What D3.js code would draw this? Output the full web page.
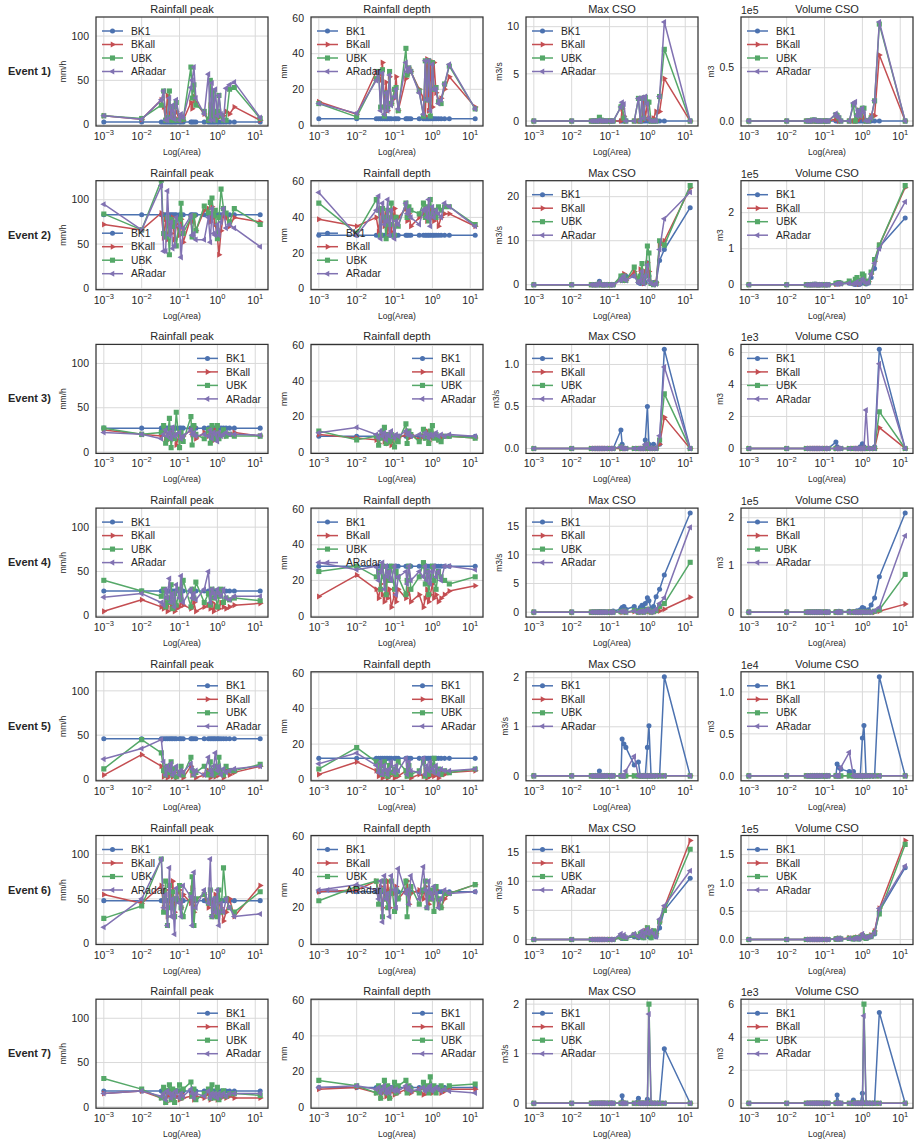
<!DOCTYPE html>
<html>
<head>
<meta charset="utf-8">
<script src="https://cdn.jsdelivr.net/npm/d3@7"></script>
<style>
  body { margin: 0; background: #fff; }
  svg { display: block; font-family: "Liberation Sans", Arial, sans-serif; }
</style>
</head>
<body>
<svg id="chart" width="916" height="1139"></svg>
<script>
// subcatchment areas (x axis, log scale)
var areas = [0.001, 0.01, 0.033, 0.038, 0.043, 0.048, 0.054, 0.06,
  0.066, 0.074, 0.082, 0.1, 0.11, 0.125, 0.2, 0.215,
  0.24, 0.27, 0.45, 0.58, 0.65, 0.72, 0.8, 0.88,
  1.0, 1.1, 1.25, 1.45, 1.7, 2.1, 2.8, 13.5];

var seriesNames = ['BK1', 'BKall', 'UBK', 'ARadar'];
var eventNames = ['Event 1)', 'Event 2)', 'Event 3)', 'Event 4)', 'Event 5)', 'Event 6)', 'Event 7)'];
var panelTitles = ['Rainfall peak', 'Rainfall depth', 'Max CSO', 'Volume CSO'];
var yLabels = ['mm/h', 'mm', 'm3/s', 'm3'];
var xTickValues = [0.001, 0.01, 0.1, 1, 10];
var xTickExps = ['\u22123', '\u22122', '\u22121', '0', '1'];
var peakTicks = [0, 50, 100];
var depthTicks = [0, 20, 40, 60];
var csoTicks = [[0, 5, 10], [0, 10, 20], [0, 0.5, 1], [0, 5, 10, 15], [0, 1, 2], [0, 5, 10, 15], [0, 1, 2]];
var volTicks = [[0, 0.5], [0, 1, 2], [0, 2, 4, 6], [0, 1, 2], [0, 0.5, 1], [0, 0.5, 1, 1.5], [0, 2, 4, 6]];
var volExp = [5, 5, 3, 5, 4, 5, 3];   // volume values below are in units of 1eN
var legendLoc = [
  ['ul', 'ul', 'ul', 'ul'], ['ll', 'll', 'ul', 'ul'], ['ur', 'ur', 'ul', 'ul'], ['ul', 'ul', 'ul', 'ul'],
  ['ur', 'ur', 'ul', 'ul'], ['ul', 'ul', 'ul', 'ul'], ['ur', 'ur', 'ul', 'ul']];

// each panel: [BK1, BKall, UBK, ARadar]
// ---- Event 1
var e1Peak = [
  [3,3,3,3,3,3,3,3, 3,3,3,3,3,3,3,3, 3,3,3,3,3,3,3,3, 3,3,3,3,3,3,3,3],
  [10,6,28,20,5,33,8,20, 5,8,15,5,10,5,25,18, 32,25,12,5,22,8,15,10, 10,8,12,10,15,12,20,5],
  [10,7,22,38,5,8,38,5, 20,5,25,5,8,6,65,30, 45,22,15,5,50,8,38,5, 15,33,10,5,5,40,42,7],
  [10,6,28,38,5,5,30,8, 22,6,28,5,12,8,42,50, 65,30,12,57,5,47,5,40, 10,33,12,5,41,45,48,8]];
var e1Depth = [
  [3.5,3.5,3.5,3.5,3.5,3.5,3.5,3.5, 3.5,3.5,3.5,3.5,3.5,3.5,3.5,3.5, 3.5,3.5,3.5,3.5,3.5,3.5,3.5,3.5, 3.5,3.5,3.5,3.5,3.5,3.5,3.5,3.5],
  [13,6,30,28,25,35,10,24, 8,27,12,15,27,8,26,28, 32,30,20,15,5,37,8,36, 10,35,18,14,15,20,27,10],
  [12,4.5,26,30,10,31,5,18, 10,30,12,20,21,8,43,28, 32,30,19,5,36,14,36,5, 35,20,21,13,12,23,33,9],
  [12,6.5,25,30,8,29,6,18, 8,28,11,16,20,9,35,30, 32,30,18,6,36,14,36,8, 34,20,20,12,14,23,34,9]];
var e1Max = [
  [0,0,0,0,0,0,0,0, 0,0,0,0,0,0,0,0, 0,0,0,0,0,0,0,0, 0,0,0,0,0,0,0,0],
  [0,0,0,0,0,0,0,0, 0,0,0,0,0,0,0,1.3, 0.5,0,0,0,0,0,2.4,0.3, 1.8,0.3,0,0.3,1.0,1.0,4.5,0],
  [0,0,0,0,0,0,0.4,0.1, 0,0,0,0,0,0,1.5,1.6, 0.3,0,0,2.4,0,2.4,0.3,2.5, 2.0,2.0,0,0,0,2.6,7.6,0],
  [0,0,0,0,0,0,0.1,0, 0,0,0,0,0,0,1.5,2.0, 1.8,0,0,2.4,0,2.5,0.3,2.6, 1.8,0.3,0,0,0,2.6,10.5,0]];
var e1Vol = [
  [0,0,0,0,0,0,0,0, 0,0,0,0,0,0,0,0, 0,0,0,0,0,0,0,0, 0,0,0,0,0,0,0,0],
  [0,0,0,0,0,0,0,0, 0,0,0,0,0,0,0.02,0.02, 0,0,0,0,0,0,0.1,0.03, 0.08,0.02,0,0,0.05,0.05,0.62,0],
  [0,0,0,0,0,0.01,0.01,0, 0,0,0,0,0,0,0.06,0.05, 0.03,0,0,0.15,0,0.05,0.1,0.05, 0.12,0.12,0,0,0.03,0.19,0.91,0],
  [0,0,0,0,0,0.01,0.01,0, 0,0,0,0,0,0,0.07,0.04, 0.03,0,0,0.17,0.18,0.05,0.1,0.05, 0.12,0.08,0,0,0.03,0.19,0.93,0]];

// ---- Event 2
var e2Peak = [
  [83,83,83,83,83,83,83,83, 83,83,83,83,83,83,83,83, 83,83,83,83,83,83,83,83, 83,83,83,83,83,83,83,83],
  [72,66,85,57,78,55,72,62, 80,55,73,60,78,52,80,75, 82,65,88,90,75,92,80,72, 58,38,65,82,80,70,80,75],
  [84,66,122,62,58,80,38,78, 70,75,48,78,96,62,80,58, 82,65,93,85,97,102,82,88, 56,80,112,90,85,75,90,72],
  [95,66,116,42,42,110,60,75, 45,48,80,70,35,68,82,60, 62,55,55,80,52,90,62,60, 72,60,75,90,68,72,68,47]];
var e2Depth = [
  [30,30,30,30,30,30,30,30, 30,30,30,30,30,30,30,30, 30,30,30,30,30,30,30,30, 30,30,30,30,30,30,30,30],
  [39,35,40,32,45,38,35,42, 30,40,32,45,35,40,45,38, 42,35,40,42,45,38,42,45, 40,38,42,35,40,42,42,35],
  [48,31,50,44,30,45,40,28, 44,36,48,30,40,35,48,40, 46,44,42,48,40,46,38,50, 42,44,40,46,44,46,46,36],
  [54,30,44,52,28,48,36,38, 50,30,44,28,38,36,48,42, 44,40,36,44,45,40,50,35, 46,40,44,42,40,48,46,35]];
var e2Max = [
  [0,0,0,0,0,0,0.8,0, 0,0,0,0,0,0,1.5,2.0, 1.5,2.0,2.0,0.5,0.3,1.5,0.3,0.5, 5.0,2.0,0.3,0.5,0.5,5.5,8.0,17.5],
  [0,0,0,0,0,0,0.3,0, 0,0,0,0,0,0,1.5,1.0, 2.5,1.0,3.0,1.0,3.5,1.0,0.3,3.0, 5.0,3.0,0.5,0.3,0.5,9.0,10.0,22.0],
  [0,0,0,0,0,0,0.3,0, 0,0,0,0,0,0,2.0,1.0, 2.0,1.0,4.0,1.0,2.0,4.8,0.5,2.0, 8.8,7.2,0.3,0,0.3,10.0,9.0,22.5],
  [0,0,0,0,0,0,0.5,0, 0,0,0,0,0,0,1.0,1.5, 2.0,1.0,2.0,0.5,1.0,3.0,0.3,2.0, 4.5,1.0,0.3,0,0.2,8.0,15.0,21.0]];
var e2Vol = [
  [0,0,0,0,0,0,0.01,0, 0,0,0,0,0,0,0.02,0.03, 0.02,0.03,0.04,0.02,0.01,0.03,0.01,0.02, 0.1,0.05,0.02,0.05,0.2,0.45,1.05,1.85],
  [0,0,0,0,0,0,0,0, 0,0,0,0,0,0,0.02,0.03, 0.05,0.03,0.08,0.04,0.08,0.05,0.02,0.1, 0.2,0.15,0.05,0.08,0.3,0.65,1.1,2.7],
  [0,0,0,0,0,0,0.01,0, 0,0,0,0,0,0,0.04,0.04, 0.06,0.04,0.1,0.05,0.15,0.2,0.05,0.12, 0.3,0.25,0.05,0.1,0.35,0.7,1.1,2.75],
  [0,0,0,0,0,0,0.01,0, 0,0,0,0,0,0,0.02,0.03, 0.04,0.03,0.05,0.02,0.04,0.08,0.02,0.05, 0.15,0.1,0.04,0.06,0.3,0.6,1.0,2.3]];

// ---- Event 3
var e3Peak = [
  [27,27,27,27,27,27,27,27, 27,27,27,27,27,27,27,27, 27,27,27,27,27,27,27,27, 27,27,27,27,27,27,27,27],
  [25,20,18,22,12,20,15,22, 18,20,8,22,15,18,25,20, 28,15,22,18,25,12,20,25, 15,22,18,20,18,20,22,18],
  [27,20,22,30,10,15,38,5, 20,15,45,5,22,12,40,8, 30,20,15,25,10,30,15,20, 30,15,20,25,18,20,18,18],
  [22,20,15,20,25,18,22,15, 28,18,20,22,15,18,25,20, 22,18,20,18,25,15,22,20, 12,22,18,20,22,20,20,19]];
var e3Depth = [
  [9,9,9,9,9,9,9,9, 9,9,9,9,9,9,9,9, 9,9,9,9,9,9,9,9, 9,9,9,9,9,9,9,9],
  [10,8,7,5,9,10,6,8, 5,10,4,9,7,8,10,12, 8,10,7,9,8,12,6,10, 8,9,10,7,8,9,9,8],
  [12,7,9,4,8,12,14,5, 10,6,10,3,9,6,16,5, 12,10,6,13,8,10,5,12, 15,8,10,7,6,9,9,8],
  [11,14,10,8,12,9,11,7, 10,9,12,8,10,9,12,10, 11,9,10,9,11,10,8,10, 9,10,11,9,10,9,10,9]];
var e3Max = [
  [0,0,0,0,0,0,0,0, 0,0,0,0,0,0,0.22,0.05, 0,0,0,0,0,0,0,0.1, 0.5,0.05,0,0.05,0,0.05,1.18,0],
  [0,0,0,0,0,0,0,0, 0,0,0,0,0,0,0,0, 0,0,0,0,0,0,0,0, 0,0,0,0,0,0.05,0.37,0],
  [0,0,0,0,0,0,0,0, 0,0,0,0,0,0,0.02,0, 0,0,0,0,0,0,0,0.02, 0.05,0,0,0,0,0.1,0.65,0],
  [0,0,0,0,0,0,0,0, 0,0,0,0,0,0,0.02,0, 0,0,0,0,0,0,0,0.05, 0.05,0,0,0,0,0.15,0.97,0]];
var e3Vol = [
  [0,0,0,0,0,0,0,0, 0,0,0,0,0,0,0.4,0.1, 0,0,0,0,0,0,0,0.1, 0.3,0.1,0,0,0,0.1,6.2,0],
  [0,0,0,0,0,0,0,0, 0,0,0,0,0,0,0,0, 0,0,0,0,0,0,0,0, 0,0,0,0,0,0,1.3,0],
  [0,0,0,0,0,0,0,0, 0,0,0,0,0,0,0,0, 0,0,0,0,0,0,0,0, 0,0,0,0,0,0,2.3,0],
  [0,0,0,0,0,0,0,0, 0,0,0,0,0,0,0,0, 0,0,0,0,0,0,0,0, 0,0,2.4,0,0,0,5.3,0]];

// ---- Event 4
var e4Peak = [
  [28,28,28,28,28,28,28,28, 28,28,28,28,28,28,28,28, 28,28,28,28,28,28,28,28, 28,28,28,28,28,28,28,28],
  [5,18,10,8,15,5,20,8, 12,5,8,10,15,12,8,10, 15,5,10,12,8,15,5,12, 10,8,15,10,8,10,12,14],
  [40,28,22,30,10,20,15,35, 8,25,12,30,18,40,10,30, 20,38,15,25,12,30,20,25, 10,22,30,15,20,18,20,17],
  [21,25,15,12,30,20,42,15, 25,10,35,20,45,15,30,20, 25,18,30,50,15,30,25,20, 30,25,22,30,20,18,22,22]];
var e4Depth = [
  [28,28,28,28,28,28,28,28, 28,28,28,28,28,28,28,28, 28,28,28,28,28,28,28,28, 28,28,28,28,28,28,28,28],
  [11,23,15,10,18,12,8,20, 10,15,5,12,8,15,10,12, 15,8,12,5,10,15,8,12, 18,10,12,8,10,12,14,17],
  [25,28,22,25,15,28,22,12, 25,20,28,15,25,22,12,20, 28,15,22,30,18,25,12,22, 28,20,15,25,22,20,18,22],
  [30,26,28,20,25,30,15,28, 22,25,20,28,12,22,25,18, 28,20,25,22,28,20,25,18, 25,28,22,25,20,28,28,26]];
var e4Max = [
  [0,0,0,0,0,0,0.1,0, 0,0,0,0,0,0.2,0.5,0.8, 1.0,0.5,1.0,0.3,0.8,1.2,0.5,1.5, 2.5,2.0,0.5,1.0,2.7,4.0,6.5,17.3],
  [0,0,0,0,0,0,0,0, 0,0,0,0,0,0,0.1,0, 0.1,0,0.1,0,0,0.1,0,0.1, 0.2,0.1,0,0,0.1,0.2,0.5,2.6],
  [0,0,0,0,0,0,0,0, 0,0,0,0,0,0,0.1,0.1, 0.2,0,0.3,0,0.1,0.3,0,0.2, 0.5,0.3,0,0.1,0.3,1.0,1.5,8.7],
  [0,0,0,0,0,0,0,0, 0,0,0,0,0,0,0.1,0.1, 0.2,0,0.2,0,0.1,0.2,0,0.3, 0.5,0.3,0,0.1,0.5,1.5,2.5,14.8]];
var e4Vol = [
  [0,0,0,0,0,0,0,0, 0,0,0,0,0,0,0.01,0.01, 0.02,0.01,0.02,0.01,0.01,0.03,0.01,0.05, 0.1,0.08,0.02,0.05,0.15,0.3,0.75,2.1],
  [0,0,0,0,0,0,0,0, 0,0,0,0,0,0,0,0, 0,0,0,0,0,0,0,0, 0,0,0,0,0,0,0.02,0.17],
  [0,0,0,0,0,0,0,0, 0,0,0,0,0,0,0,0, 0,0,0,0,0,0,0,0, 0.01,0,0,0,0,0.02,0.05,0.8],
  [0,0,0,0,0,0,0,0, 0,0,0,0,0,0,0,0, 0,0,0,0,0,0,0,0, 0.01,0,0,0,0,0.03,0.1,1.62]];

// ---- Event 5
var e5Peak = [
  [46,46,46,46,46,46,46,46, 46,46,46,46,46,46,46,46, 46,46,46,46,46,46,46,46, 46,46,46,46,46,46,46,46],
  [5,28,15,3,10,2,5,12, 3,8,2,5,10,2,15,5, 8,2,5,10,2,8,5,3, 12,5,8,2,10,5,8,15],
  [12,45,30,10,5,15,8,20, 5,12,3,8,15,5,25,10, 5,8,15,5,20,10,5,15, 8,25,10,5,15,10,10,17],
  [23,35,45,20,5,15,10,18, 5,8,15,5,10,8,18,12, 5,10,5,25,10,5,15,30, 10,15,5,12,8,10,12,15]];
var e5Depth = [
  [12,12,12,12,12,12,12,12, 12,12,12,12,12,12,12,12, 12,12,12,12,12,12,12,12, 12,12,12,12,12,12,12,12],
  [3,10,5,2,4,1,3,5, 1,2,4,1,3,2,5,2, 4,1,3,2,5,1,3,2, 4,2,3,1,4,3,4,5],
  [6,18,10,5,8,3,10,5, 2,8,4,6,3,10,5,2, 8,3,5,10,2,6,3,5, 8,12,4,6,3,5,4,6],
  [9,15,8,4,10,3,8,5, 3,6,10,4,8,5,12,3, 10,5,4,12,3,8,5,10, 6,4,8,3,6,5,5,6]];
var e5Max = [
  [0,0,0,0,0,0,0.1,0, 0,0,0,0,0,0,0,0.75, 0.65,0.58,0.22,0.28,0,0,0,0, 0.58,1.02,0,0,0,0,2.02,0],
  [0,0,0,0,0,0,0,0, 0,0,0,0,0,0,0,0, 0,0,0,0,0,0,0,0, 0,0,0,0,0,0,0,0],
  [0,0,0,0,0,0,0,0, 0,0,0,0,0,0,0,0, 0,0,0,0,0,0,0,0, 0,0,0,0,0,0,0,0],
  [0,0,0,0,0,0,0,0, 0,0,0,0,0,0,0,0, 0,0.1,0.4,0,0,0,0,0, 0,0,0,0,0,0,0,0]];
var e5Vol = [
  [0,0,0,0,0,0,0,0, 0,0,0,0,0,0,0,0.14, 0.1,0.08,0.05,0.05,0,0,0,0, 0.45,0.6,0,0,0,0,1.18,0],
  [0,0,0,0,0,0,0,0, 0,0,0,0,0,0,0,0, 0,0,0,0,0,0,0,0, 0,0,0,0,0,0,0,0],
  [0,0,0,0,0,0,0,0, 0,0,0,0,0,0,0,0, 0,0,0,0,0,0,0,0, 0,0,0,0,0,0,0,0],
  [0,0,0,0,0,0,0,0, 0,0,0,0,0,0,0,0, 0,0.1,0.28,0,0,0,0,0, 0,0,0,0,0,0,0,0]];

// ---- Event 6
var e6Peak = [
  [48,48,48,48,48,48,48,48, 48,48,48,48,48,48,48,48, 48,48,48,48,48,48,48,48, 48,48,48,48,48,48,48,48],
  [55,45,65,40,60,30,55,45, 70,35,50,60,40,55,45,62, 35,50,55,40,60,45,30,55, 50,45,40,25,35,50,30,65],
  [28,42,95,35,70,20,65,40, 58,30,50,65,40,30,55,75, 20,50,55,45,60,30,40,50, 30,60,35,85,50,40,35,58],
  [18,50,95,40,55,20,85,30, 50,10,62,45,30,65,52,20, 80,40,60,45,95,30,50,35, 60,20,45,35,50,40,30,33]];
var e6Depth = [
  [29,29,29,29,29,29,29,29, 29,29,29,29,29,29,29,29, 29,29,29,29,29,29,29,29, 29,29,29,29,29,29,29,29],
  [29,30,35,28,32,20,30,25, 35,20,30,28,32,25,30,35, 22,28,30,25,32,28,22,30, 25,28,30,22,20,25,28,33],
  [24,32,35,22,30,15,35,25, 20,28,35,18,30,25,35,15, 28,32,22,30,35,20,28,25, 30,18,32,25,20,28,28,33],
  [30,33,30,25,35,12,38,25, 28,15,38,30,20,42,28,30, 22,38,25,43,30,20,35,28, 25,32,28,20,25,30,28,29]];
var e6Max = [
  [0,0,0,0,0,0,0,0, 0,0,0,0,0,0,0.3,0.2, 0.3,0.2,0.5,0.3,0.5,0.8,0.3,1.0, 1.5,0.5,0.3,1.0,0.5,2.0,5.0,10.5],
  [0,0,0,0,0,0,0,0, 0,0,0,0,0,0,0.5,0.3, 0.5,0.3,0.8,0.5,0.8,1.0,0.5,1.5, 2.0,1.0,0.5,1.5,1.0,3.0,5.5,17.0],
  [0,0,0,0,0,0,0,0, 0,0,0,0,0,0,0.5,0.3, 0.5,0.2,0.8,0.5,1.0,1.0,0.3,1.2, 2.0,1.0,0.3,1.5,1.0,3.0,5.0,15.5],
  [0,0,0,0,0,0,0,0, 0,0,0,0,0,0,1.0,0.5, 0.8,0.3,1.0,0.5,0.8,1.5,0.5,1.2, 1.8,1.0,1.5,1.0,0.5,3.5,5.8,11.8]];
var e6Vol = [
  [0,0,0,0,0,0,0,0, 0,0,0,0,0,0,0.01,0.01, 0.01,0.01,0.02,0.01,0.02,0.03,0.01,0.03, 0.05,0.03,0.02,0.04,0.05,0.1,0.5,1.27],
  [0,0,0,0,0,0,0,0, 0,0,0,0,0,0,0.01,0.01, 0.02,0.01,0.03,0.02,0.03,0.04,0.02,0.05, 0.08,0.05,0.03,0.05,0.08,0.15,0.55,1.75],
  [0,0,0,0,0,0,0,0, 0,0,0,0,0,0,0.01,0.01, 0.02,0.01,0.02,0.01,0.03,0.03,0.01,0.04, 0.07,0.04,0.02,0.05,0.06,0.12,0.45,1.68],
  [0,0,0,0,0,0,0,0, 0,0,0,0,0,0,0.01,0.01, 0.02,0.01,0.02,0.01,0.02,0.03,0.01,0.03, 0.1,0.05,0.03,0.05,0.06,0.12,0.55,1.3]];

// ---- Event 7
var e7Peak = [
  [18,18,18,18,18,18,18,18, 18,18,18,18,18,18,18,18, 18,18,18,18,18,18,18,18, 18,18,18,18,18,18,18,18],
  [15,18,10,15,5,12,18,8, 15,10,12,8,15,10,12,15, 8,12,10,15,8,12,10,14, 8,12,10,12,10,12,10,10],
  [32,20,10,22,5,18,25,8, 20,5,18,25,10,20,28,12, 20,8,15,20,10,25,10,15, 22,8,15,18,12,15,15,13],
  [15,18,12,15,8,18,15,10, 15,12,18,10,15,12,20,15, 10,15,12,18,10,15,12,15, 10,15,12,15,12,15,15,15]];
var e7Depth = [
  [11,11,11,11,11,11,11,11, 11,11,11,11,11,11,11,11, 11,11,11,11,11,11,11,11, 11,11,11,11,11,11,11,11],
  [10,11,8,10,5,8,11,6, 10,5,9,7,10,8,10,9, 11,8,10,7,9,8,10,12, 8,10,9,10,8,9,10,10],
  [15,12,8,12,5,10,15,8, 12,5,10,14,8,12,15,8, 12,10,8,14,10,12,8,17, 10,12,8,10,12,10,12,13],
  [11,12,10,11,8,10,12,8, 10,8,11,9,10,9,12,10, 11,9,10,11,9,10,11,12, 9,10,11,10,9,10,9,8]];
var e7Max = [
  [0,0,0,0,0,0,0,0, 0,0,0,0,0,0,0,0.15, 0,0,0,0.1,0,0,0,0, 0.08,0,0,0,0,0,1.1,0],
  [0,0,0,0,0,0,0,0, 0,0,0,0,0,0,0,0, 0,0,0,0,0,0,0,0, 0,0,0,0,0,0,0,0],
  [0,0,0,0,0,0,0,0, 0,0,0,0,0,0,0,0, 0,0,0,0,0,0,0,0, 0,2.0,0,0,0,0,0,0],
  [0,0,0,0,0,0,0,0, 0,0,0,0,0,0,0,0, 0,0,0,0,0,0,0,0, 0,1.8,0,0,0,0,0,0]];
var e7Vol = [
  [0,0,0,0,0,0,0,0, 0,0,0,0,0,0,0,0.5, 0,0,0,0.2,0,0,0,0, 0.6,0,0,0,0,0,5.5,0],
  [0,0,0,0,0,0,0,0, 0,0,0,0,0,0,0,0, 0,0,0,0,0,0,0,0, 0,0,0,0,0,0,0,0],
  [0,0,0,0,0,0,0,0, 0,0,0,0,0,0,0,0, 0,0,0,0,0,0,0,0, 0,6.0,0,0,0,0,0,0],
  [0,0,0,0,0,0,0,0, 0,0,0,0,0,0,0,0, 0,0,0,0,0,0,0,0, 0,5.3,0,0,0,0,0,0]];

var eventData = [
  [e1Peak, e1Depth, e1Max, e1Vol], [e2Peak, e2Depth, e2Max, e2Vol], [e3Peak, e3Depth, e3Max, e3Vol],
  [e4Peak, e4Depth, e4Max, e4Vol], [e5Peak, e5Depth, e5Max, e5Vol], [e6Peak, e6Depth, e6Max, e6Vol],
  [e7Peak, e7Depth, e7Max, e7Vol]];

// ---- layout / style
var colors = ['#4C72B0', '#C44E52', '#55A868', '#8172B2'];
var symbols = [
  { type: d3.symbolCircle, size: 20, rot: 0 },
  { type: d3.symbolTriangle, size: 16, rot: 90 },
  { type: d3.symbolSquare, size: 26, rot: 0 },
  { type: d3.symbolTriangle, size: 16, rot: -90 }];
var colLeft = [96, 311, 526, 741];
var plotW = 172, plotH = 109, rowStep = 163.7, firstTop = 17;
var textColor = '#262626';

var logMin = Math.log10(d3.min(areas)), logMax = Math.log10(d3.max(areas));
var logPad = (logMax - logMin) * 0.05;
var xDomain = [Math.pow(10, logMin - logPad), Math.pow(10, logMax + logPad)];

var svg = d3.select('#chart');
var defs = svg.append('defs');

function fmtTick(ticks) {
  var dec = ticks.some(function(t) { return t % 1 !== 0; });
  return function(t) { return dec ? t.toFixed(1) : String(t); };
}

function drawMarker(sel, i, x, y) {
  sel.append('path')
    .attr('d', d3.symbol().type(symbols[i].type).size(symbols[i].size)())
    .attr('transform', 'translate(' + x + ',' + y + ') rotate(' + symbols[i].rot + ')')
    .attr('fill', colors[i]);
}

function drawPanel(ev, col) {
  var left = colLeft[col], top = firstTop + ev * rowStep;
  var bottom = top + plotH, right = left + plotW;
  var series = eventData[ev][col];
  var yDom, ticks;
  if (col === 0) { yDom = [-1.5, 121.5]; ticks = peakTicks; }
  else if (col === 1) { yDom = [-0.6, 60.6]; ticks = depthTicks; }
  else {
    var all = d3.merge(series);
    var lo = d3.min(all), hi = d3.max(all), m = (hi - lo) * 0.05;
    yDom = [lo - m, hi + m];
    ticks = col === 2 ? csoTicks[ev] : volTicks[ev];
  }
  var x = d3.scaleLog().domain(xDomain).range([left, right]);
  var y = d3.scaleLinear().domain(yDom).range([bottom, top]);
  var g = svg.append('g');
  var clipId = 'clip' + ev + '_' + col;
  defs.append('clipPath').attr('id', clipId).append('rect')
    .attr('x', left).attr('y', top).attr('width', plotW).attr('height', plotH);

  // grid
  g.selectAll('.gx').data(xTickValues).join('line')
    .attr('x1', function(d) { return x(d); }).attr('x2', function(d) { return x(d); })
    .attr('y1', top).attr('y2', bottom)
    .attr('stroke', '#d9d9d9').attr('stroke-width', 1);
  g.selectAll('.gy').data(ticks).join('line')
    .attr('x1', left).attr('x2', right)
    .attr('y1', function(d) { return y(d); }).attr('y2', function(d) { return y(d); })
    .attr('stroke', '#d9d9d9').attr('stroke-width', 1);

  // series
  var plot = g.append('g').attr('clip-path', 'url(#' + clipId + ')');
  var line = d3.line().x(function(d, i) { return x(areas[i]); }).y(function(d) { return y(d); });
  series.forEach(function(vals, s) {
    plot.append('path').datum(vals).attr('d', line)
      .attr('fill', 'none').attr('stroke', colors[s]).attr('stroke-width', 1.5)
      .attr('stroke-linejoin', 'round');
    vals.forEach(function(v, i) { drawMarker(plot, s, x(areas[i]), y(v)); });
  });

  // frame
  g.append('rect').attr('x', left).attr('y', top).attr('width', plotW).attr('height', plotH)
    .attr('fill', 'none').attr('stroke', '#333').attr('stroke-width', 1.25);

  // x tick labels
  xTickValues.forEach(function(t, i) {
    var tx = g.append('text').attr('x', x(t)).attr('y', bottom + 14)
      .attr('text-anchor', 'middle').attr('font-size', 10.5).attr('fill', textColor).text('10');
    tx.append('tspan').attr('dy', -5).attr('font-size', 7.5).text(xTickExps[i]);
  });
  g.append('text').attr('x', (left + right) / 2).attr('y', bottom + 29)
    .attr('text-anchor', 'middle').attr('font-size', 8.5).attr('fill', textColor).text('Log(Area)');

  // y tick labels
  var fmt = fmtTick(ticks);
  var maxW = 0;
  ticks.forEach(function(t) {
    var tl = g.append('text').attr('x', left - 7).attr('y', y(t)).attr('dy', '0.35em')
      .attr('text-anchor', 'end').attr('font-size', 10.5).attr('fill', textColor).text(fmt(t));
    maxW = Math.max(maxW, tl.node().getComputedTextLength());
  });
  var lx = left - 7 - maxW - 5;
  g.append('text').attr('transform', 'translate(' + lx + ',' + ((top + bottom) / 2) + ') rotate(-90)')
    .attr('text-anchor', 'middle').attr('font-size', 8.5).attr('fill', textColor).text(yLabels[col]);

  // title and offset text
  g.append('text').attr('x', (left + right) / 2).attr('y', top - 4)
    .attr('text-anchor', 'middle').attr('font-size', 11).attr('fill', textColor).text(panelTitles[col]);
  if (col === 3) {
    g.append('text').attr('x', left).attr('y', top - 3)
      .attr('font-size', 10.5).attr('fill', textColor).text('1e' + volExp[ev]);
  }

  // legend
  var loc = legendLoc[ev][col];
  var legX = loc === 'ur' ? right - 71 : left + 6;
  var legY = loc === 'll' ? bottom - 16 - 3 * 13.5 : top + 14;
  seriesNames.forEach(function(name, s) {
    var ly = legY + s * 13.5;
    g.append('line').attr('x1', legX).attr('x2', legX + 21).attr('y1', ly).attr('y2', ly)
      .attr('stroke', colors[s]).attr('stroke-width', 1.5);
    drawMarker(g, s, legX + 10.5, ly);
    g.append('text').attr('x', legX + 29).attr('y', ly).attr('dy', '0.35em')
      .attr('font-size', 10.3).attr('fill', textColor).text(name);
  });
}

eventNames.forEach(function(name, ev) {
  svg.append('text').attr('x', 8).attr('y', firstTop + ev * rowStep + 58)
    .attr('font-size', 11).attr('font-weight', 'bold').attr('fill', textColor).text(name);
  for (var c = 0; c < 4; c++) drawPanel(ev, c);
});
</script>
</body>
</html>
